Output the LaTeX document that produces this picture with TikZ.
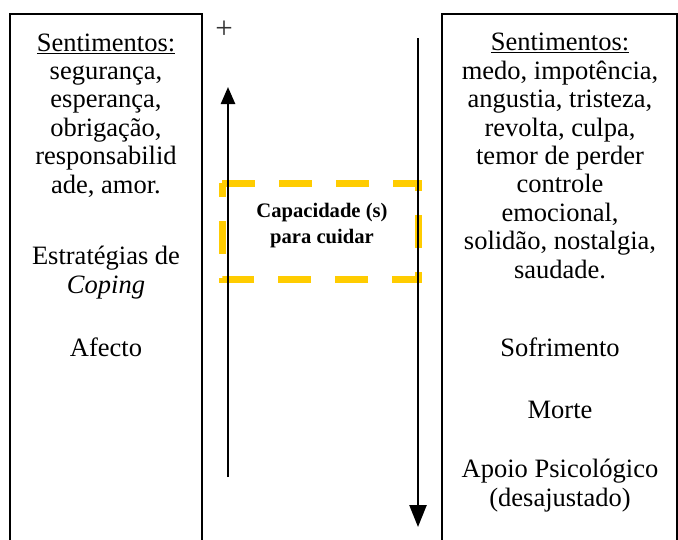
\documentclass[tikz,border=0pt]{standalone}
\usepackage{fontspec}
\setmainfont{Liberation Serif}
\usetikzlibrary{arrows.meta}
\definecolor{capyellow}{RGB}{255,204,0}
\tikzset{
	txt/.style={font=\fontsize{26.5}{28.4}\selectfont, align=center, anchor=base, inner sep=0pt},
	frame/.style={line width=2pt},
	flow/.style={line width=2.5pt, -{Triangle[length=17pt,width=14pt]}},
	capbox/.style={capyellow, line width=7pt, dash pattern=on 33pt off 24pt},
}

\begin{document}
\begin{tikzpicture}[x=1pt,y=-1pt]
		\useasboundingbox (0,0) rectangle (678,539);
		% the two open frames
		\draw[frame] (10,545) -- (10,14) -- (202,14) -- (202,545);
		\draw[frame] (442,545) -- (442,14) -- (677,14) -- (677,545);
		% left column (anchor = baseline of last line)
		\node[txt] (leftFeel) at (106,193) {\underline{Sentimentos:}\\segurança,\\esperança,\\obrigação,\\responsabilid\\ade, amor.};
		\node[txt] (coping) at (106,293) {Estratégias de\\\textit{Coping}};
		\node[txt] (afecto) at (106,356) {Afecto};
		% right column
		\node[txt] (rightFeel) at (560,278) {\underline{Sentimentos:}\\medo, impotência,\\angustia, tristeza,\\revolta, culpa,\\temor de perder\\controle\\emocional,\\solidão, nostalgia,\\saudade.};
		\node[txt] (sofrimento) at (560,356) {Sofrimento};
		\node[txt] (morte) at (560,418) {Morte};
		\node[txt] (apoio) at (560,506) {Apoio Psicológico\\(desajustado)};
		% middle
		\node[font=\fontsize{31}{32}\selectfont, text=black!80, inner sep=0pt] (plus) at (224,30) {+};
		\draw[capbox] (222,183) -- (418,183) -- (418,279) -- (222,279) -- cycle;
		\node[txt, font=\bfseries\fontsize{20.6}{26}\selectfont] (cap) at (322,243) {Capacidade (s)\\para cuidar};
		\coordinate (upTail) at (228,477);
		\coordinate (upTip) at (228,87);
		\coordinate (downTail) at (418,38);
		\coordinate (downTip) at (418,527);
		\draw[flow] (upTail) -- (upTip);
		\draw[flow, -{Triangle[length=22pt,width=17pt]}] (downTail) -- (downTip);
	\end{tikzpicture}
\end{document}
